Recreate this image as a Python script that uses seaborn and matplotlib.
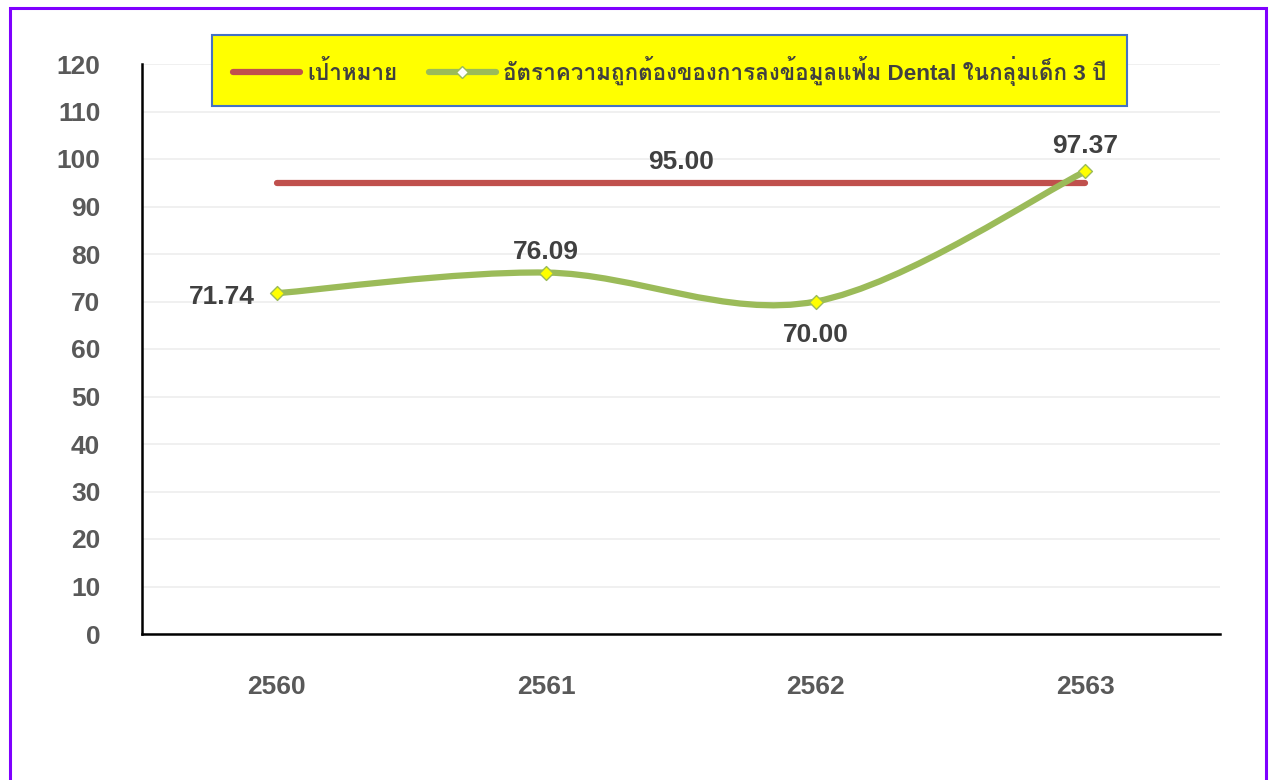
import numpy as np
import seaborn as sns
import matplotlib.pyplot as plt
from matplotlib.path import Path
from matplotlib.patches import PathPatch, Rectangle
from matplotlib.lines import Line2D
from matplotlib import font_manager as fm
from matplotlib.ft2font import FT2Font

years = ['2560', '2561', '2562', '2563']
accuracy = [71.74, 76.09, 70.00, 97.37]
target = [95.00, 95.00, 95.00, 95.00]
target_label = 'เป้าหมาย'
accuracy_label = 'อัตราความถูกต้องของการลงข้อมูลแฟ้ม Dental ในกลุ่มเด็ก 3 ปี'


def find_thai_font():
    for f in fm.fontManager.ttflist:
        try:
            if FT2Font(f.fname).get_char_index(0x0E01):
                return f.name
        except Exception:
            pass
    return None


sns.set_style('white')
thai = find_thai_font()
fams = ['Liberation Sans', 'DejaVu Sans']
if thai:
    fams = ['Liberation Sans', thai, 'DejaVu Sans']
plt.rcParams['font.family'] = fams

fig = plt.figure(figsize=(12.72, 7.8), dpi=100)
ax = fig.add_axes([142 / 1272, 146 / 780, 1078 / 1272, 570 / 780])

x = np.arange(len(years))

# target line
sns.lineplot(x=x, y=target, ax=ax, color='#C0504D', linewidth=4.5, zorder=3)

# smoothed accuracy line (bezier through the points, like excel smoothing)
pts = np.column_stack([x, accuracy]).astype(float)
verts = [pts[0]]
codes = [Path.MOVETO]
for i in range(len(pts) - 1):
    p0 = pts[i - 1] if i > 0 else pts[i]
    p1 = pts[i]
    p2 = pts[i + 1]
    p3 = pts[i + 2] if i + 2 < len(pts) else pts[i + 1]
    verts += [p1 + (p2 - p0) / 6, p2 - (p3 - p1) / 6, p2]
    codes += [Path.CURVE4] * 3
ax.add_patch(PathPatch(Path(verts, codes), fill=False, edgecolor='#9BBB59',
                       linewidth=4.5, zorder=4, capstyle='round'))
sns.scatterplot(x=x, y=accuracy, ax=ax, marker='D', s=50, color='#FFFF00',
                edgecolor='#9BBB59', linewidth=1, zorder=5)

lab = dict(fontsize=19, fontweight='bold', color='#404040')
ax.text(x[0] - 0.08, accuracy[0] - 0.8, f'{accuracy[0]:.2f}', ha='right', va='center', **lab)
ax.text(x[1], accuracy[1] + 1.8, f'{accuracy[1]:.2f}', ha='center', va='bottom', **lab)
ax.text(x[2], accuracy[2] - 4.6, f'{accuracy[2]:.2f}', ha='center', va='top', **lab)
ax.text(x[3], accuracy[3] + 2.9, f'{accuracy[3]:.2f}', ha='center', va='bottom', **lab)
ax.text((x[1] + x[2]) / 2, target[0] + 1.8, f'{target[0]:.2f}', ha='center', va='bottom', **lab)

ax.set_xlim(-0.5, len(years) - 0.5)
ax.set_ylim(0, 120)
ax.set_yticks(range(0, 121, 10))
ax.set_xticks(x)
ax.set_xticklabels(years)
ax.tick_params(axis='x', length=0, pad=29.5, labelsize=19, labelcolor='#595959')
ax.tick_params(axis='y', length=0, pad=30, labelsize=19, labelcolor='#595959')
for t in ax.get_xticklabels() + ax.get_yticklabels():
    t.set_fontweight('bold')
ax.grid(axis='y', color='#EDEDED', linewidth=1.2)
for s in ['top', 'right']:
    ax.spines[s].set_visible(False)
for s in ['left', 'bottom']:
    ax.spines[s].set_color('black')
    ax.spines[s].set_linewidth(1.8)

handles = [
    Line2D([], [], color='#C0504D', linewidth=4.5, solid_capstyle='round'),
    Line2D([], [], color='#9BBB59', linewidth=4.5, marker='D', markersize=6,
           markerfacecolor='white', markeredgecolor='#9BBB59'),
]
leg = fig.legend(handles, [target_label, accuracy_label], loc='center',
                 bbox_to_anchor=(669.5 / 1272, 1 - 70.5 / 780), ncol=2,
                 fontsize=16.2, frameon=True, fancybox=False, borderpad=0.9,
                 handlelength=3.0, handletextpad=0.3, columnspacing=1.4)
leg.get_frame().set_facecolor('#FFFF00')
leg.get_frame().set_edgecolor('#4472C4')
leg.get_frame().set_linewidth(1.5)
leg.get_frame().set_alpha(1)
for t in leg.get_texts():
    t.set_color('#404040')
    t.set_fontweight('bold')

fig.patches.append(Rectangle((10 / 1272, -0.05), 1256 / 1272, 1.05 - 8 / 780,
                             transform=fig.transFigure, fill=False,
                             edgecolor='#7F00FF', linewidth=2.2))

fig.savefig('out.png', dpi=100)
